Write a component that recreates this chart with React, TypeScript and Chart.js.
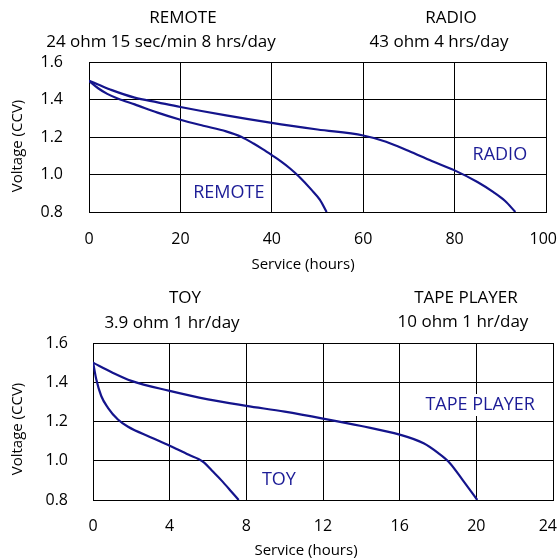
import React, { useEffect, useRef } from 'react';
import { Chart, registerables } from 'chart.js';

Chart.register(...registerables);

// ---------- data ----------
const remoteHours = [0, 2, 4, 6.4, 10, 15, 20, 25, 30, 33.4, 36, 38, 40, 42, 44, 46, 48.7, 50.5, 52];
const remoteVolts = [1.5, 1.46, 1.43, 1.404, 1.374, 1.33, 1.292, 1.26, 1.23, 1.2, 1.165, 1.135, 1.103, 1.07, 1.032, 0.988, 0.918, 0.866, 0.8];

const radioHours = [0, 2, 5, 10, 15, 20, 30, 40, 50, 60, 65, 70, 75, 80, 85, 88.5, 91, 93.3];
const radioVolts = [1.5, 1.48, 1.45, 1.41, 1.385, 1.36, 1.315, 1.275, 1.24, 1.208, 1.175, 1.125, 1.072, 1.022, 0.96, 0.906, 0.86, 0.8];

const toyHours = [0, 0.17, 0.43, 0.78, 1.3, 1.83, 3, 4, 5, 5.5, 5.8, 6.2, 6.7, 7.2, 7.6];
const toyVolts = [1.504, 1.415, 1.33, 1.27, 1.21, 1.173, 1.12, 1.077, 1.03, 1.009, 0.99, 0.95, 0.9, 0.845, 0.8];

const tapeHours = [0, 1, 2, 4, 6, 8, 10, 12, 14, 16, 17.25, 18, 18.6, 19.3, 20.05];
const tapeVolts = [1.5, 1.45, 1.407, 1.356, 1.313, 1.28, 1.25, 1.215, 1.177, 1.133, 1.089, 1.04, 0.99, 0.9, 0.8];

const yTickValues = [0.8, 1.0, 1.2, 1.4, 1.6];
const yTickLabels = ['0.8', '1.0', '1.2', '1.4', '1.6'];
const topXTicks = [0, 20, 40, 60, 80, 100];
const topXTickLabels = ['0', '20', '40', '60', '80', '100'];
const bottomXTicks = [0, 4, 8, 12, 16, 20, 24];
const bottomXTickLabels = ['0', '4', '8', '12', '16', '20', '24'];

const FONT = "'Open Sans', 'Noto Sans', sans-serif";
const LINE_COLOR = '#14148c';
const LABEL_COLOR = '#1c1c96';
const CANVAS_W = 559;

type Txt = { text: string; x: number; y: number; size: number; rotate?: boolean };
type Lbl = { text: string; xv: number; yv: number };

function overlayPlugin(titles: Txt[], labels: Lbl[], xTicks: number[], xLabels: string[], xLabelY: number) {
  return {
    id: 'overlay',
    afterDraw(chart: any) {
      const ctx = chart.ctx;
      ctx.save();
      ctx.textAlign = 'center';
      ctx.textBaseline = 'middle';
      // x tick labels (kept inside the canvas)
      ctx.font = `16px ${FONT}`;
      ctx.fillStyle = '#000';
      xTicks.forEach((v, i) => {
        const w = ctx.measureText(xLabels[i]).width;
        let cx = chart.scales.x.getPixelForValue(v);
        if (cx + w / 2 > CANVAS_W - 2) cx = CANVAS_W - 2 - w / 2;
        ctx.fillText(xLabels[i], cx, xLabelY);
      });
      titles.forEach((t) => {
        ctx.font = `${t.size}px ${FONT}`;
        ctx.fillStyle = '#000';
        if (t.rotate) {
          ctx.save();
          ctx.translate(t.x, t.y);
          ctx.rotate(-Math.PI / 2);
          ctx.fillText(t.text, 0, 0);
          ctx.restore();
        } else {
          ctx.fillText(t.text, t.x, t.y);
        }
      });
      labels.forEach((l) => {
        const px = chart.scales.x.getPixelForValue(l.xv);
        const py = chart.scales.y.getPixelForValue(l.yv);
        ctx.font = `18px ${FONT}`;
        const w = ctx.measureText(l.text).width;
        ctx.fillStyle = '#fff';
        ctx.fillRect(px - w / 2 - 3, py - 11, w + 6, 22);
        ctx.fillStyle = LABEL_COLOR;
        ctx.fillText(l.text, px, py);
      });
      ctx.restore();
    },
  };
}

function makeConfig(opts: {
  series: { hours: number[]; volts: number[] }[];
  xMax: number;
  xTicks: number[];
  xLabels: string[];
  xLabelY: number;
  left: number;
  right: number;
  top: number;
  xHeight: number;
  yPad: number;
  titles: Txt[];
  labels: Lbl[];
}) {
  return {
    type: 'line',
    data: {
      datasets: opts.series.map((s) => ({
        data: s.hours.map((h, i) => ({ x: h, y: s.volts[i] })),
        borderColor: LINE_COLOR,
        borderWidth: 2.2,
        pointRadius: 0,
        fill: false,
        cubicInterpolationMode: 'monotone',
      })),
    },
    options: {
      animation: false,
      responsive: false,
      devicePixelRatio: 1,
      layout: { padding: { left: 0, right: opts.right, top: opts.top, bottom: 0 } },
      plugins: { legend: { display: false }, tooltip: { enabled: false } },
      scales: {
        x: {
          type: 'linear',
          min: 0,
          max: opts.xMax,
          afterBuildTicks: (s: any) => {
            s.ticks = opts.xTicks.map((v) => ({ value: v }));
          },
          ticks: { display: false },
          grid: { color: '#000', lineWidth: 1, drawTicks: false },
          border: { color: '#000', width: 1 },
          afterFit: (s: any) => {
            s.height = opts.xHeight;
            s.paddingLeft = 0;
            s.paddingRight = 0;
          },
        },
        y: {
          type: 'linear',
          min: 0.8,
          max: 1.6,
          afterBuildTicks: (s: any) => {
            s.ticks = yTickValues.map((v) => ({ value: v }));
          },
          ticks: {
            padding: opts.yPad,
            color: '#000',
            font: { size: 16, family: FONT },
            callback: (_v: any, i: number) => yTickLabels[i],
          },
          grid: { color: '#000', lineWidth: 1, drawTicks: false },
          border: { color: '#000', width: 1 },
          afterFit: (s: any) => {
            s.width = opts.left;
            s.paddingTop = 0;
            s.paddingBottom = 0;
          },
        },
      },
    },
    plugins: [overlayPlugin(opts.titles, opts.labels, opts.xTicks, opts.xLabels, opts.xLabelY)],
  };
}

function ChartCanvas({ config }: { config: any }) {
  const ref = useRef<HTMLCanvasElement | null>(null);
  useEffect(() => {
    if (!ref.current) return;
    const chart = new Chart(ref.current, config);
    return () => chart.destroy();
  }, []);
  return <canvas ref={ref} width={559} height={280} style={{ display: 'block', width: 559, height: 280 }} />;
}

const topConfig = makeConfig({
  series: [
    { hours: remoteHours, volts: remoteVolts },
    { hours: radioHours, volts: radioVolts },
  ],
  xMax: 100,
  xTicks: topXTicks,
  xLabels: topXTickLabels,
  xLabelY: 239,
  left: 89,
  right: 13,
  top: 62,
  xHeight: 68,
  yPad: 26,
  titles: [
    { text: 'REMOTE', x: 183, y: 18, size: 17 },
    { text: '24 ohm 15 sec/min 8 hrs/day', x: 161, y: 42, size: 17 },
    { text: 'RADIO', x: 451, y: 18, size: 17 },
    { text: '43 ohm 4 hrs/day', x: 439, y: 42, size: 17 },
    { text: 'Service (hours)', x: 303, y: 265, size: 15 },
    { text: 'Voltage (CCV)', x: 18, y: 146, size: 15, rotate: true },
  ],
  labels: [
    { text: 'REMOTE', xv: 30.6, yv: 0.9 },
    { text: 'RADIO', xv: 89.9, yv: 1.104 },
  ],
});

const bottomConfig = makeConfig({
  series: [
    { hours: toyHours, volts: toyVolts },
    { hours: tapeHours, volts: tapeVolts },
  ],
  xMax: 24,
  xTicks: bottomXTicks,
  xLabels: bottomXTickLabels,
  xLabelY: 246,
  left: 93,
  right: 6,
  top: 63,
  xHeight: 60,
  yPad: 25,
  titles: [
    { text: 'TOY', x: 185, y: 18, size: 17 },
    { text: '3.9 ohm 1 hr/day', x: 172, y: 43, size: 17 },
    { text: 'TAPE PLAYER', x: 466, y: 18, size: 17 },
    { text: '10 ohm 1 hr/day', x: 463, y: 42, size: 17 },
    { text: 'Service (hours)', x: 306, y: 271, size: 15 },
    { text: 'Voltage (CCV)', x: 18, y: 149, size: 15, rotate: true },
  ],
  labels: [
    { text: 'TOY', xv: 9.7, yv: 0.902 },
    { text: 'TAPE PLAYER', xv: 20.2, yv: 1.284 },
  ],
});

export default function App() {
  return (
    <div style={{ position: 'fixed', left: 0, top: 0, width: 559, height: 560, background: '#fff' }}>
      <ChartCanvas config={topConfig} />
      <ChartCanvas config={bottomConfig} />
    </div>
  );
}
